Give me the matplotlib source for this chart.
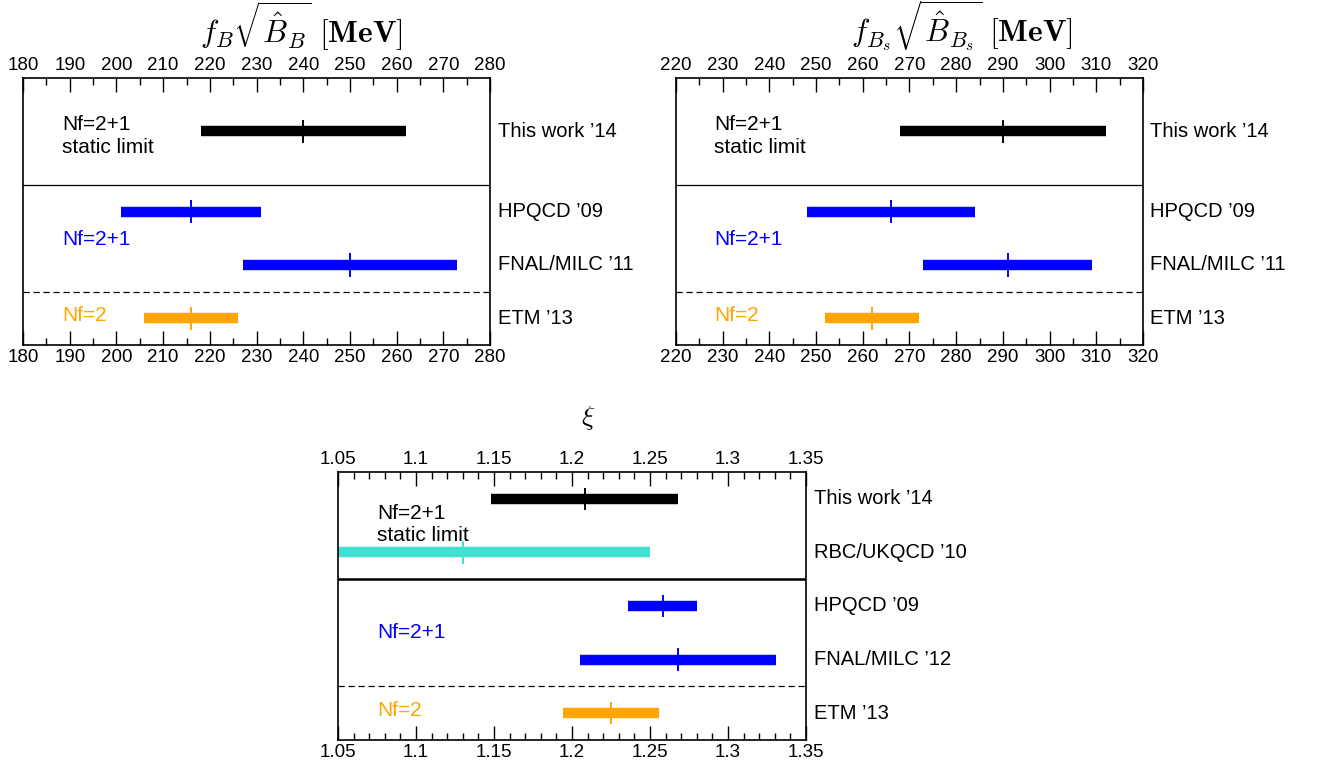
import matplotlib
matplotlib.use("Agg")
import matplotlib.pyplot as plt
from matplotlib.ticker import MultipleLocator, FixedLocator

plt.rcParams['font.family'] = ['Liberation Sans', 'DejaVu Sans']
plt.rcParams['mathtext.fontset'] = 'cm'

# f_B sqrt(B_B) [MeV]
fb_labels = ["This work \u201914", "HPQCD \u201909", "FNAL/MILC \u201911", "ETM \u201913"]
fb_center = [240, 216, 250, 216]
fb_lo = [218, 201, 227, 206]
fb_hi = [262, 231, 273, 226]

# f_Bs sqrt(B_Bs) [MeV]
fbs_labels = ["This work \u201914", "HPQCD \u201909", "FNAL/MILC \u201911", "ETM \u201913"]
fbs_center = [290, 266, 291, 262]
fbs_lo = [268, 248, 273, 252]
fbs_hi = [312, 284, 309, 272]

# xi
xi_labels = ["This work \u201914", "RBC/UKQCD \u201910", "HPQCD \u201909",
             "FNAL/MILC \u201912", "ETM \u201913"]
xi_center = [1.208, 1.13, 1.258, 1.268, 1.225]
xi_lo = [1.148, 1.01, 1.236, 1.205, 1.194]
xi_hi = [1.268, 1.25, 1.280, 1.331, 1.256]
xi_ticks = [1.05, 1.1, 1.15, 1.2, 1.25, 1.3, 1.35]
xi_ticklabels = ["1.05", "1.1", "1.15", "1.2", "1.25", "1.3", "1.35"]

BLUE = '#0000ff'
ORANGE = '#ffa500'
TURQ = '#40e0d0'
TXT = 15      # group labels inside the boxes
LAB = 14.5    # labels right of the boxes

fig = plt.figure(figsize=(13.18, 7.75), dpi=100)


def setup(ax, xlim, major, minor):
    ax.set_xlim(*xlim)
    ax.set_ylim(0, 5)
    ax.set_yticks([])
    ax.xaxis.set_major_locator(major)
    ax.xaxis.set_minor_locator(minor)
    ax.tick_params(axis='x', which='both', direction='in', top=True, bottom=True,
                   labeltop=True, labelbottom=True, labelsize=13.5, pad=3)
    ax.tick_params(axis='x', which='major', length=10, width=1.0)
    ax.tick_params(axis='x', which='minor', length=5, width=1.0)
    for s in ax.spines.values():
        s.set_linewidth(1.2)


def draw_rows(ax, ys, lo, hi, center, colors, labels, half=0.22):
    for y, a, b, c, col, lab in zip(ys, lo, hi, center, colors, labels):
        ax.hlines(y, a, b, color=col, lw=7.5, capstyle='butt')
        ax.vlines(c, y - half, y + half, color=col, lw=1.4)
        ax.text(1.016, y, lab, transform=ax.get_yaxis_transform(),
                fontsize=LAB, va='center', ha='left')


def group_text(ax, x, ys):
    ax.text(x, ys[0], "Nf=2+1", fontsize=TXT, va='center')
    ax.text(x, ys[1], "static limit", fontsize=TXT, va='center')
    ax.text(x, ys[2], "Nf=2+1", fontsize=TXT, va='center', color=BLUE)
    ax.text(x, ys[3], "Nf=2", fontsize=TXT, va='center', color=ORANGE)


# top left
ax1 = fig.add_axes([0.0175, 0.5548, 0.3543, 0.3445])
setup(ax1, (180, 280), MultipleLocator(10), MultipleLocator(5))
draw_rows(ax1, [4, 2.5, 1.5, 0.5], fb_lo, fb_hi, fb_center,
          ['black', BLUE, BLUE, ORANGE], fb_labels)
ax1.axhline(3, color='black', lw=0.9)
ax1.axhline(1, color='black', lw=0.9, ls=(0, (5, 3)))
group_text(ax1, 188.3, [4.13, 3.69, 1.97, 0.55])
fig.text(301 / 1318, 1 - 26 / 775, r"$f_B\sqrt{\hat{B}_B}\ [\mathbf{MeV}]$",
         fontsize=22.5, ha='center', va='center')

# top right
ax2 = fig.add_axes([0.5129, 0.5548, 0.3543, 0.3445])
setup(ax2, (220, 320), MultipleLocator(10), MultipleLocator(5))
draw_rows(ax2, [4, 2.5, 1.5, 0.5], fbs_lo, fbs_hi, fbs_center,
          ['black', BLUE, BLUE, ORANGE], fbs_labels)
ax2.axhline(3, color='black', lw=0.9)
ax2.axhline(1, color='black', lw=0.9, ls=(0, (5, 3)))
group_text(ax2, 228.2, [4.13, 3.69, 1.97, 0.55])
fig.text(962 / 1318, 1 - 26 / 775, r"$f_{B_s}\sqrt{\hat{B}_{B_s}}\ [\mathbf{MeV}]$",
         fontsize=22.5, ha='center', va='center')

# bottom
ax3 = fig.add_axes([0.2565, 0.0452, 0.3551, 0.3458])
setup(ax3, (1.05, 1.35), FixedLocator(xi_ticks), MultipleLocator(0.01))
ax3.set_xticklabels(xi_ticklabels)
draw_rows(ax3, [4.5, 3.5, 2.5, 1.5, 0.5], xi_lo, xi_hi, xi_center,
          ['black', TURQ, BLUE, BLUE, ORANGE], xi_labels, half=0.21)
ax3.axhline(3, color='black', lw=1.8)
ax3.axhline(1, color='black', lw=0.9, ls=(0, (5, 3)))
group_text(ax3, 1.075, [4.23, 3.82, 2.0, 0.55])
fig.text(588 / 1318, 1 - 418 / 775, r"$\xi$", fontsize=20, ha='center', va='center')

fig.savefig("out.png", dpi=100)
